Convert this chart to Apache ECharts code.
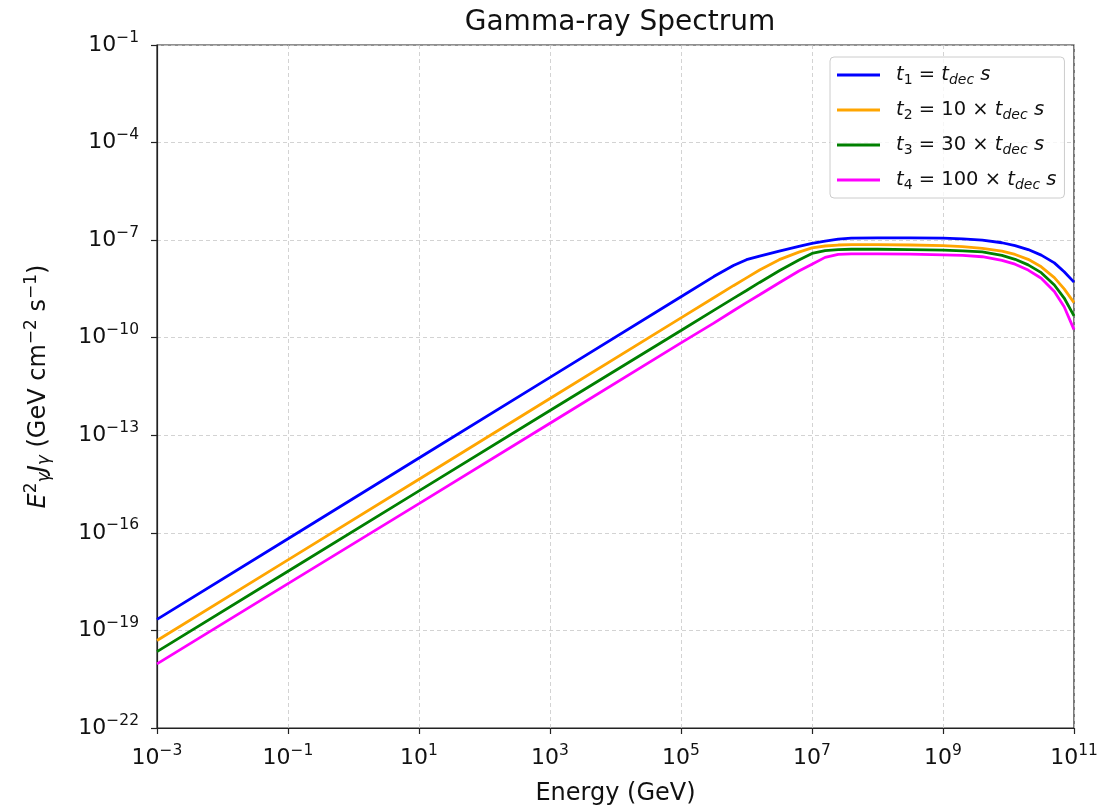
<!DOCTYPE html>
<html>
<head>
<meta charset="utf-8">
<script src="https://cdn.jsdelivr.net/npm/echarts@6/dist/echarts.min.js"></script>
<style>
html,body{margin:0;padding:0;background:#fff;}
#chart{width:1102px;height:807px;}
</style>
</head>
<body>
<div id="chart"></div>
<script>
// log10(Energy / GeV)
const energyExp = [-3, -1, 1, 3, 5, 5.5, 5.8, 6, 6.2, 6.5, 6.8, 7, 7.2, 7.4, 7.6, 8, 8.5, 9, 9.3, 9.6, 9.9, 10.1, 10.3, 10.5, 10.7, 10.85, 11];
// log10(E^2 J / GeV cm^-2 s^-1)
const fluxT1 = [-18.66, -16.18, -13.70, -11.22, -8.74, -8.12, -7.78, -7.60, -7.49, -7.34, -7.19, -7.10, -7.03, -6.97, -6.94, -6.93, -6.93, -6.94, -6.96, -7.00, -7.08, -7.17, -7.29, -7.46, -7.70, -7.97, -8.29];
const fluxT2 = [-19.31, -16.83, -14.35, -11.87, -9.39, -8.77, -8.40, -8.16, -7.92, -7.60, -7.37, -7.24, -7.18, -7.15, -7.14, -7.14, -7.15, -7.17, -7.20, -7.25, -7.34, -7.44, -7.59, -7.82, -8.15, -8.50, -8.92];
const fluxT3 = [-19.65, -17.18, -14.71, -12.24, -9.78, -9.16, -8.79, -8.55, -8.30, -7.94, -7.61, -7.41, -7.32, -7.29, -7.28, -7.28, -7.29, -7.31, -7.33, -7.36, -7.47, -7.59, -7.76, -8.00, -8.38, -8.78, -9.33];
const fluxT4 = [-20.03, -17.56, -15.10, -12.63, -10.16, -9.55, -9.17, -8.92, -8.68, -8.31, -7.95, -7.74, -7.53, -7.44, -7.42, -7.42, -7.43, -7.45, -7.47, -7.51, -7.62, -7.74, -7.92, -8.17, -8.58, -9.05, -9.75];

const seriesNames = ['t1 = tdec s', 't2 = 10 × tdec s', 't3 = 30 × tdec s', 't4 = 100 × tdec s'];
const legendLabels = [
  '{ti|t}{sub|1}{tx| = }{it|t}{isub|dec}{it| s}',
  '{ti|t}{sub|2}{tx| = 10 × }{it|t}{isub|dec}{it| s}',
  '{ti|t}{sub|3}{tx| = 30 × }{it|t}{isub|dec}{it| s}',
  '{ti|t}{sub|4}{tx| = 100 × }{it|t}{isub|dec}{it| s}'
];
const seriesColors = ['#0000ff', '#ffa500', '#008000', '#ff00ff'];
const seriesFlux = [fluxT1, fluxT2, fluxT3, fluxT4];

const xMin = -3, xMax = 11, xStep = 2;
const yMin = -22, yMax = -1, yStep = 3;

const FONT = 'DejaVu Sans';
const TXT = '#111';
function powLabel(v) {
  const n = Math.round(v);
  const s = n < 0 ? '\u2212' + Math.abs(n) : String(n);
  return '{b|10}{s|' + s + '}';
}
const powRich = {
  b: {fontSize: 22, fontFamily: FONT, color: TXT},
  s: {fontSize: 15.5, fontFamily: FONT, color: TXT, padding: [0, 0, 15, 0]}
};

const chart = echarts.init(document.getElementById('chart'), null, {renderer: 'canvas'});
const option = {
  backgroundColor: '#fff',
  animation: false,
  title: {
    text: 'Gamma-ray Spectrum',
    left: 615, top: 4, textAlign: 'center',
    textStyle: {fontFamily: FONT, fontSize: 28, fontWeight: 'normal', color: TXT}
  },
  grid: {left: 157, right: 28, top: 45, bottom: 79, containLabel: false, outerBoundsMode: 'none',
    show: true, borderColor: '#222', borderWidth: 1.2, backgroundColor: 'transparent'},
  legend: {
    orient: 'vertical', left: 830, top: 57,
    data: seriesNames,
    icon: 'rect', itemWidth: 43, itemHeight: 3, itemGap: 11,
    padding: [6, 8, 6, 7],
    borderColor: '#cccccc', borderWidth: 1, borderRadius: 4, backgroundColor: 'rgba(255,255,255,0.8)',
    formatter: function (name) { return legendLabels[seriesNames.indexOf(name)]; },
    textStyle: {
      fontFamily: FONT, fontSize: 19.5, color: TXT, lineHeight: 24,
      rich: {
        ti: {fontSize: 19.5, fontStyle: 'italic', fontFamily: FONT, color: TXT, padding: [0, 0, 0, 11]},
        it: {fontSize: 19.5, fontStyle: 'italic', fontFamily: FONT, color: TXT},
        tx: {fontSize: 19.5, fontFamily: FONT, color: TXT},
        sub: {fontSize: 14, fontFamily: FONT, color: TXT, padding: [10, 0, 0, 0]},
        isub: {fontSize: 14, fontStyle: 'italic', fontFamily: FONT, color: TXT, padding: [10, 0, 0, 0]}
      }
    }
  },
  xAxis: {
    type: 'value', min: xMin, max: xMax, interval: xStep,
    name: 'Energy (GeV)', nameLocation: 'middle', nameGap: 54,
    nameTextStyle: {fontFamily: FONT, fontSize: 24, color: TXT},
    axisLine: {show: true, onZero: false, lineStyle: {color: '#222', width: 1.2}},
    axisTick: {show: true, length: 6, inside: false, lineStyle: {color: '#222', width: 1.2}},
    axisLabel: {margin: 15, formatter: powLabel, rich: powRich},
    splitLine: {show: true, lineStyle: {color: '#c8c8c8', width: 0.8, type: [4, 3]}}
  },
  yAxis: {
    type: 'value', min: yMin, max: yMax, interval: yStep,
    name: '{it|E}{sup|2}{sub|γ}{it|J}{sub|γ}{tx| (GeV cm}{sup|\u22122}{tx| s}{sup|\u22121}{tx|)}',
    nameLocation: 'middle', nameGap: 102, nameRotate: 90,
    nameTextStyle: {
      fontFamily: FONT, fontSize: 24, color: TXT,
      rich: {
        it: {fontSize: 24, fontStyle: 'italic', fontFamily: FONT, color: TXT},
        tx: {fontSize: 24, fontFamily: FONT, color: TXT},
        sup: {fontSize: 17, fontFamily: FONT, color: TXT, padding: [0, 0, 15, 0]},
        sub: {fontSize: 17, fontStyle: 'italic', fontFamily: FONT, color: TXT, padding: [12, 0, 0, 0]}
      }
    },
    axisLine: {show: true, onZero: false, lineStyle: {color: '#222', width: 1.2}},
    axisTick: {show: true, length: 6, inside: false, lineStyle: {color: '#222', width: 1.2}},
    axisLabel: {margin: 18, formatter: powLabel, rich: powRich},
    splitLine: {show: true, lineStyle: {color: '#c8c8c8', width: 0.8, type: [4, 3]}}
  },
  series: seriesNames.map(function (name, k) {
    return {
      name: name, type: 'line', showSymbol: false, smooth: false,
      color: seriesColors[k],
      lineStyle: {color: seriesColors[k], width: 2.8},
      data: energyExp.map(function (x, i) { return [x, seriesFlux[k][i]]; })
    };
  })
};
chart.setOption(option);
</script>
</body>
</html>
